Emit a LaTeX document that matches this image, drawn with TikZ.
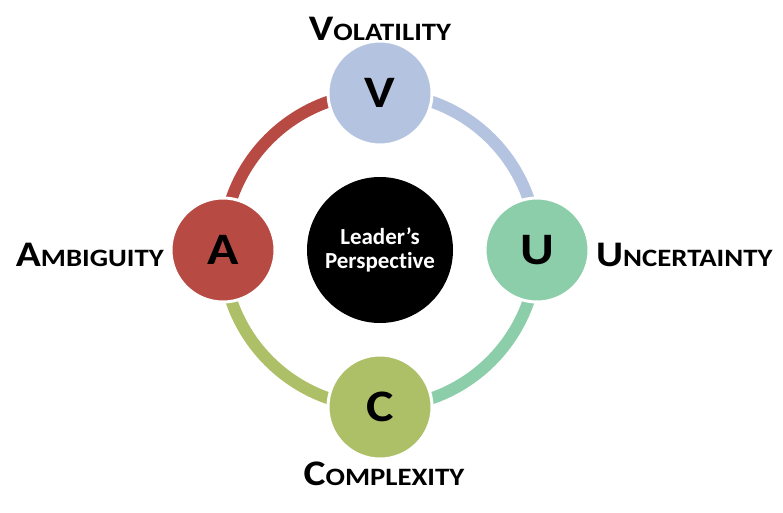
\documentclass[tikz,border=0pt]{standalone}
\usepackage{fontspec}
\setmainfont[Ligatures=NoCommon]{Carlito}
\newfontfamily\widefont[FakeStretch=1.15]{Carlito}
\usetikzlibrary{positioning, backgrounds}
\definecolor{volblue}{RGB}{180, 196, 224}
\definecolor{uncteal}{RGB}{140, 206, 170}
\definecolor{comgreen}{RGB}{173, 192, 104}
\definecolor{ambred}{RGB}{184, 74, 68}
\newcommand{\capword}[2]{{\fontsize{36}{36}\selectfont #1}{\fontsize{25}{25}\selectfont #2}}

\begin{document}
\begin{tikzpicture}[x=1pt, y=1pt,
  letter/.style={circle, draw=white, line width=3pt, minimum size=104pt, inner sep=0pt,
    font=\widefont\bfseries\fontsize{45}{45}\selectfont},
  word/.style={font=\widefont\bfseries, inner sep=0pt},
  ring/.style={line width=12pt},
]
\useasboundingbox (0,0) rectangle (783,512);

% Centre
\node[circle, fill=black, minimum size=146pt, inner sep=0pt, align=center, text=white,
      font=\bfseries\fontsize{23}{24}\selectfont] (hub) at (380, 262) {Leader’s\\Perspective};

% Four letters
\node[letter, fill=volblue]  (V) at (380, 419) {V};
\node[letter, fill=uncteal]  (U) at (537, 262) {U};
\node[letter, fill=comgreen] (C) at (380, 105) {C};
\node[letter, fill=ambred]   (A) at (223, 262) {A};

% Ring arcs
\begin{scope}[on background layer]
\fill[white] (0,0) rectangle (783,512);
\draw[ring, ambred]   (A.center) arc[start angle=180, end angle=90,   radius=157];
\draw[ring, volblue]  (V.center) arc[start angle=90,  end angle=0,    radius=157];
\draw[ring, uncteal]  (U.center) arc[start angle=0,   end angle=-90,  radius=157];
\draw[ring, comgreen] (C.center) arc[start angle=-90, end angle=-180, radius=157];
\end{scope}

% Labels
\node[word, anchor=base]      (vol) at (380, 471) {\capword{V}{OLATILITY}};
\node[word, anchor=base west] (unc) at (596, 246) {\capword{U}{NCERTAINTY}};
\node[word, anchor=base]      (com) at (384, 27)  {\capword{C}{OMPLEXITY}};
\node[word, anchor=base east] (amb) at (164, 246) {\capword{A}{MBIGUITY}};
\end{tikzpicture}
\end{document}
